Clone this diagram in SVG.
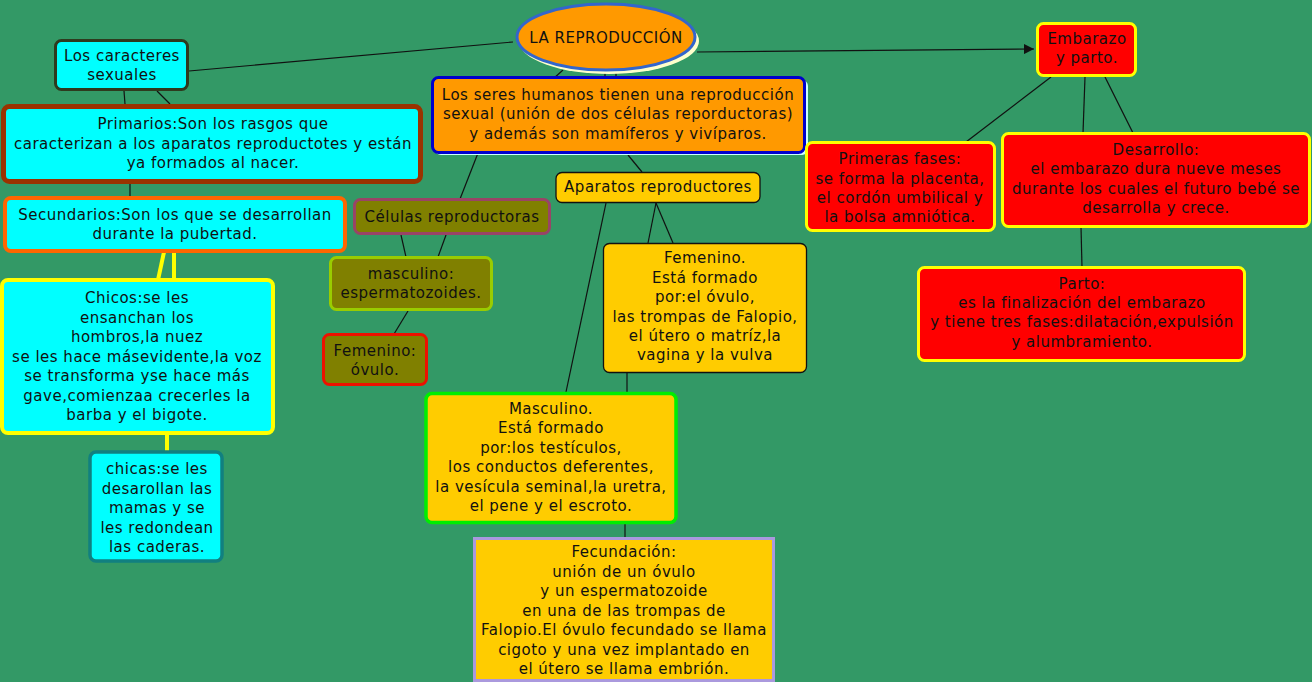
<svg xmlns="http://www.w3.org/2000/svg" width="1312" height="682" viewBox="0 0 1312 682">
<defs>
<style>
text{font-family:"DejaVu Sans","Verdana",sans-serif;font-size:15px;letter-spacing:0.5px;fill:#111;text-anchor:middle}
.c{stroke:#111;stroke-width:1.2;fill:none}
.y{stroke:#FFFF00;stroke-width:4;fill:none}
.cy{fill:#00FFFF}
.rd{fill:#FF0000;stroke:#FFFF00;stroke-width:3}
.ol{fill:#808000}
.go{fill:#FFCC00}
</style>
<marker id="arr" viewBox="0 0 10 10" refX="10" refY="5" markerWidth="10" markerHeight="10" markerUnits="userSpaceOnUse" orient="auto">
<path d="M0,0 L10,5 L0,10 z" fill="#111"/>
</marker>
</defs>
<rect x="0" y="0" width="1312" height="682" fill="#339966"/>
<g id="connectors">
<line class="c" x1="189" y1="71" x2="513" y2="42"/>
<line class="c" x1="697" y1="52" x2="1034" y2="49" marker-end="url(#arr)"/>
<line class="c" x1="563" y1="70" x2="553" y2="79"/>
<line class="c" x1="605" y1="70" x2="605" y2="79"/>
<line class="c" x1="616" y1="70" x2="616" y2="79"/>
<line class="c" x1="478" y1="153" x2="460" y2="199"/>
<line class="c" x1="628" y1="155" x2="642" y2="172"/>
<line class="c" x1="124" y1="91" x2="125" y2="104"/>
<line class="c" x1="157" y1="91" x2="170" y2="104"/>
<line class="c" x1="130" y1="183" x2="130" y2="197"/>
<line class="y" x1="164" y1="252" x2="158" y2="280"/>
<line class="y" x1="174" y1="252" x2="174" y2="280"/>
<line class="y" x1="167" y1="434" x2="167" y2="451"/>
<line class="c" x1="401" y1="235" x2="406" y2="257"/>
<line class="c" x1="446" y1="235" x2="438" y2="257"/>
<line class="c" x1="408" y1="311" x2="394" y2="334"/>
<line class="c" x1="606" y1="203" x2="566" y2="392"/>
<line class="c" x1="656" y1="203" x2="648" y2="243"/>
<line class="c" x1="656" y1="203" x2="673" y2="243"/>
<line class="c" x1="627" y1="372" x2="627" y2="392"/>
<line class="c" x1="625" y1="523" x2="625" y2="538"/>
<line class="c" x1="1051" y1="77" x2="966" y2="142"/>
<line class="c" x1="1085" y1="77" x2="1083" y2="133"/>
<line class="c" x1="1105" y1="77" x2="1133" y2="133"/>
<line class="c" x1="1081" y1="227" x2="1082" y2="267"/>
</g>
<g id="n-root">
<ellipse cx="609" cy="41" rx="90" ry="33" fill="#FFFFCC"/>
<ellipse cx="606" cy="37" rx="89" ry="33" fill="#FF9900" stroke="#3366CC" stroke-width="3"/>
<text x="606" y="43">LA REPRODUCCIÓN</text>
</g>
<g id="n-caracteres">
<rect x="55.5" y="40.5" width="132" height="49" rx="6" class="cy" stroke="#2E3A1E" stroke-width="3"/>
<text x="122" y="61">Los caracteres</text>
<text x="122" y="80">sexuales</text>
</g>
<g id="n-primarios">
<rect x="3.5" y="106.5" width="417" height="75" rx="6" class="cy" stroke="#993300" stroke-width="5"/>
<text x="213" y="129">Primarios:Son los rasgos que</text>
<text x="213" y="149">caracterizan a los aparatos reproductotes y están</text>
<text x="213" y="168">ya formados al nacer.</text>
</g>
<g id="n-secundarios">
<rect x="5" y="198" width="340" height="53" rx="6" class="cy" stroke="#FF6600" stroke-width="4"/>
<text x="175" y="220">Secundarios:Son los que se desarrollan</text>
<text x="175" y="239">durante la pubertad.</text>
</g>
<g id="n-chicos">
<rect x="2" y="280" width="271" height="153" rx="6" class="cy" stroke="#FFFF00" stroke-width="4"/>
<text x="137" y="303">Chicos:se les</text>
<text x="137" y="323">ensanchan los</text>
<text x="137" y="342">hombros,la nuez</text>
<text x="137" y="362">se les hace másevidente,la voz</text>
<text x="137" y="381">se transforma yse hace más</text>
<text x="137" y="401">gave,comienzaa crecerles la</text>
<text x="137" y="420">barba y el bigote.</text>
</g>
<g id="n-chicas">
<rect x="90" y="452" width="132" height="109" rx="6" class="cy" stroke="#118080" stroke-width="3.5"/>
<text x="157" y="474">chicas:se les</text>
<text x="157" y="494">desarollan las</text>
<text x="157" y="513">mamas y se</text>
<text x="157" y="533">les redondean</text>
<text x="157" y="552">las caderas.</text>
</g>
<g id="n-seres">
<rect x="435" y="80" width="373" height="75" rx="6" fill="#CCFFFF"/>
<rect x="432.5" y="77.5" width="372" height="75" rx="6" fill="#FF9900" stroke="#0000CC" stroke-width="3"/>
<text x="618" y="100">Los seres humanos tienen una reproducción</text>
<text x="618" y="119">sexual (unión de dos células reporductoras)</text>
<text x="618" y="139">y además son mamíferos y vivíparos.</text>
</g>
<g id="n-celulas">
<rect x="354.5" y="199.5" width="195" height="34" rx="6" class="ol" stroke="#994466" stroke-width="3"/>
<text x="452" y="222">Células reproductoras</text>
</g>
<g id="n-masc-cel">
<rect x="330.5" y="257.5" width="161" height="52" rx="6" class="ol" stroke="#99CC00" stroke-width="3"/>
<text x="411" y="279">masculino:</text>
<text x="411" y="298">espermatozoides.</text>
</g>
<g id="n-fem-cel">
<rect x="323.5" y="334.5" width="103" height="50" rx="6" class="ol" stroke="#EE1100" stroke-width="3"/>
<text x="375" y="356">Femenino:</text>
<text x="375" y="375">óvulo.</text>
</g>
<g id="n-aparatos">
<rect x="556" y="172.5" width="204" height="30" rx="6" class="go" stroke="#111" stroke-width="1.3"/>
<text x="658" y="192">Aparatos reproductores</text>
</g>
<g id="n-fem-apar">
<rect x="603.5" y="243.5" width="203" height="129" rx="6" class="go" stroke="#111" stroke-width="1.3"/>
<text x="705" y="263">Femenino.</text>
<text x="705" y="283">Está formado</text>
<text x="705" y="302">por:el óvulo,</text>
<text x="705" y="322">las trompas de Falopio,</text>
<text x="705" y="341">el útero o matríz,la</text>
<text x="705" y="360">vagina y la vulva</text>
</g>
<g id="n-masc-apar">
<rect x="426" y="393.5" width="250" height="129" rx="6" class="go" stroke="#00EE00" stroke-width="3.5"/>
<text x="551" y="414">Masculino.</text>
<text x="551" y="433">Está formado</text>
<text x="551" y="453">por:los testículos,</text>
<text x="551" y="472">los conductos deferentes,</text>
<text x="551" y="492">la vesícula seminal,la uretra,</text>
<text x="551" y="511">el pene y el escroto.</text>
</g>
<g id="n-fecundacion">
<rect x="474.5" y="538.5" width="299" height="142" class="go" stroke="#AA99DD" stroke-width="3"/>
<text x="624" y="557">Fecundación:</text>
<text x="624" y="577">unión de un óvulo</text>
<text x="624" y="596">y un espermatozoide</text>
<text x="624" y="616">en una de las trompas de</text>
<text x="624" y="635">Falopio.El óvulo fecundado se llama</text>
<text x="624" y="655">cigoto y una vez implantado en</text>
<text x="624" y="674">el útero se llama embrión.</text>
</g>
<g id="n-embarazo">
<rect x="1037.5" y="23.5" width="98" height="52" rx="6" class="rd"/>
<text x="1087" y="44">Embarazo</text>
<text x="1087" y="63">y parto.</text>
</g>
<g id="n-primeras">
<rect x="806.5" y="142.5" width="188" height="88" rx="6" class="rd"/>
<text x="900" y="164">Primeras fases:</text>
<text x="900" y="184">se forma la placenta,</text>
<text x="900" y="203">el cordón umbilical y</text>
<text x="900" y="222">la bolsa amniótica.</text>
</g>
<g id="n-desarrollo">
<rect x="1002.5" y="133.5" width="307" height="93" rx="6" class="rd"/>
<text x="1156" y="155">Desarrollo:</text>
<text x="1156" y="174">el embarazo dura nueve meses</text>
<text x="1156" y="194">durante los cuales el futuro bebé se</text>
<text x="1156" y="213">desarrolla y crece.</text>
</g>
<g id="n-parto">
<rect x="918.5" y="267.5" width="326" height="93" rx="6" class="rd"/>
<text x="1082" y="289">Parto:</text>
<text x="1082" y="308">es la finalización del embarazo</text>
<text x="1082" y="327">y tiene tres fases:dilatación,expulsión</text>
<text x="1082" y="347">y alumbramiento.</text>
</g>
</svg>
